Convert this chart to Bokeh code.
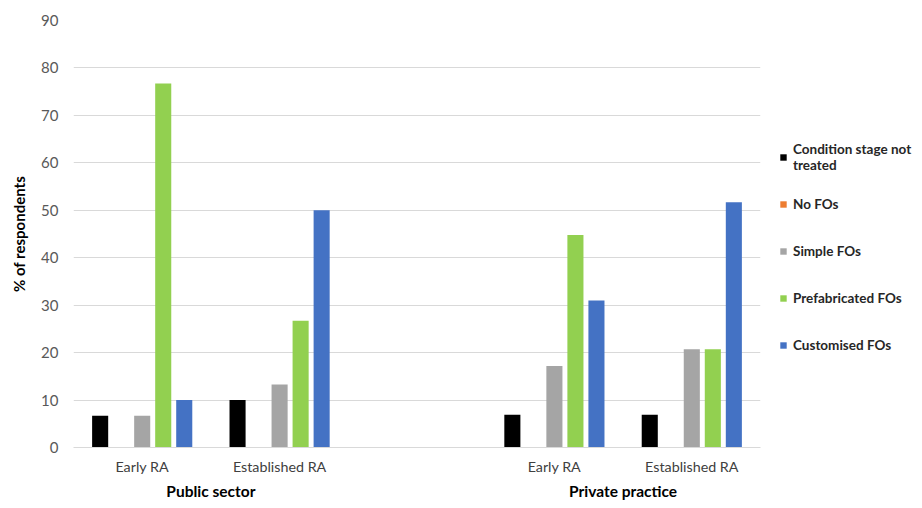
from bokeh.plotting import figure
from bokeh.models import FactorRange, Legend, LegendItem, Range1d, FixedTicker, ColumnDataSource
from bokeh.transform import dodge
from bokeh.embed import file_html
from bokeh.resources import INLINE

groups = ["Public sector", "Private practice"]
stages = ["Early RA", "Established RA"]
series = ["Condition stage not\ntreated", "No FOs", "Simple FOs", "Prefabricated FOs", "Customised FOs"]
colors = ["#000000", "#ED7D31", "#A5A5A5", "#92D050", "#4472C4"]

not_treated = [6.7, 10.0, 6.9, 6.9]
no_fos = [0.0, 0.0, 0.0, 0.0]
simple_fos = [6.7, 13.3, 17.2, 20.7]
prefab_fos = [76.7, 26.7, 44.8, 20.7]
custom_fos = [10.0, 50.0, 31.0, 51.7]
y_ticks = [0, 10, 20, 30, 40, 50, 60, 70, 80, 90]

factors = [(g, s) for g in groups for s in stages]
data = dict(x=factors, s0=not_treated, s1=no_fos, s2=simple_fos, s3=prefab_fos, s4=custom_fos)
src = ColumnDataSource(data)

FONT = "Lato"

p = figure(x_range=FactorRange(*factors, factor_padding=0, group_padding=1.0, range_padding=0),
           y_range=Range1d(0, 90),
           frame_width=687, frame_height=427,
           output_backend="svg", toolbar_location=None)
p.min_border_left = 73
p.min_border_top = 20
p.min_border_bottom = 53
p.min_border_right = 0

step = 0.153
bw = 0.117
items = []
for i, (name, col) in enumerate(zip(series, colors)):
    r = p.vbar(x=dodge("x", (i - 2) * step, range=p.x_range), top="s%d" % i, width=bw,
               source=src, fill_color=col, line_color=None)
    items.append(LegendItem(label=name, renderers=[r]))

legend = Legend(items=items, location=(19, 80))
legend.glyph_width = 8
legend.glyph_height = 8
legend.label_height = 44
legend.spacing = 3
legend.padding = 0
legend.margin = 0
legend.label_standoff = 6
legend.border_line_color = None
legend.background_fill_color = None
legend.label_text_font = FONT
legend.label_text_font_style = "bold"
legend.label_text_font_size = "13.5px"
legend.label_text_color = "#262626"
p.add_layout(legend, "right")

p.outline_line_color = None
p.xgrid.grid_line_color = None
p.ygrid.grid_line_color = "#D9D9D9"
p.yaxis.ticker = FixedTicker(ticks=y_ticks)
p.yaxis.axis_line_color = None
p.yaxis.major_tick_line_color = None
p.yaxis.minor_tick_line_color = None
p.yaxis.major_label_text_font = FONT
p.yaxis.major_label_text_font_size = "15px"
p.yaxis.major_label_text_color = "#595959"
p.yaxis.major_label_standoff = 9
p.yaxis.axis_label = "% of respondents"
p.yaxis.axis_label_text_font = FONT
p.yaxis.axis_label_text_font_style = "bold"
p.yaxis.axis_label_text_font_size = "15px"
p.yaxis.axis_label_text_color = "#000000"
p.yaxis.axis_label_standoff = 10

p.xaxis.axis_line_color = "#D9D9D9"
p.xaxis.major_tick_line_color = None
p.xaxis.minor_tick_line_color = None
p.xaxis.separator_line_color = None
p.xaxis.major_label_text_font = FONT
p.xaxis.major_label_text_font_size = "14.3px"
p.xaxis.major_label_text_color = "#404040"
p.xaxis.major_label_standoff = 4
p.xaxis.major_label_text_line_height = 1.6
p.xaxis.group_text_font = FONT
p.xaxis.group_text_font_style = "bold"
p.xaxis.group_text_font_size = "15.5px"
p.xaxis.group_text_color = "#000000"

open("out.html", "w").write(file_html(p, INLINE))
